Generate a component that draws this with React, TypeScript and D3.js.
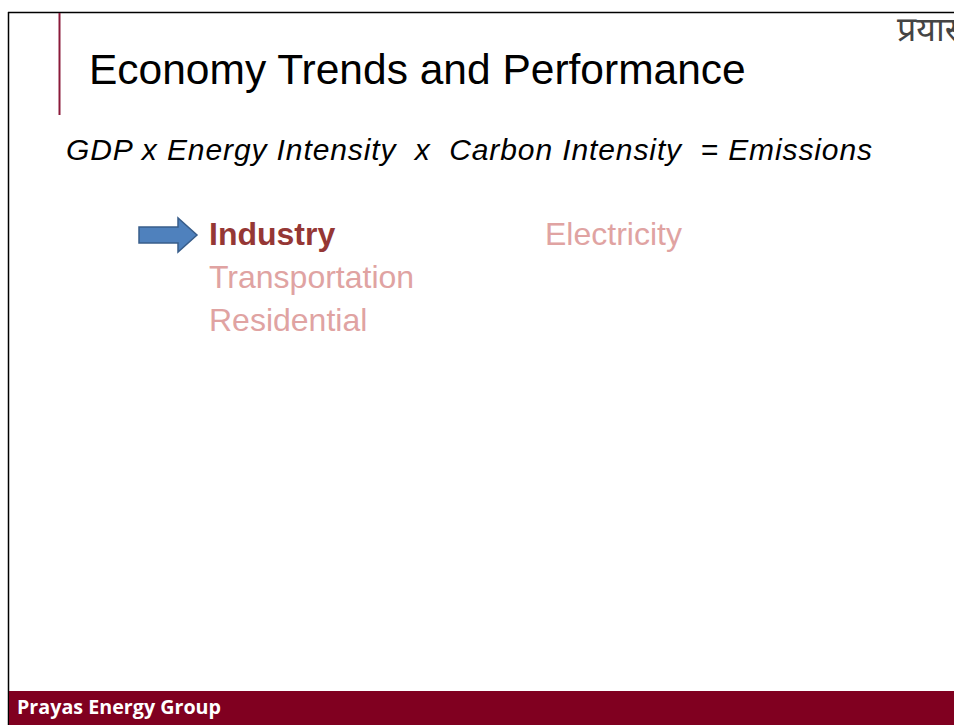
import React, { useEffect, useRef } from 'react';
import * as d3 from 'd3';

const title = 'Economy Trends and Performance';
const equation = 'GDP x Energy Intensity  x  Carbon Intensity  = Emissions';
const leftSectors = ['Industry', 'Transportation', 'Residential'];
const rightSectors = ['Electricity'];
const activeSector = 'Industry';
const footer = 'Prayas Energy Group';
const logo = 'प्रयास';

const W = 954;
const H = 725;

const App: React.FC = () => {
  const ref = useRef<SVGSVGElement>(null);

  useEffect(() => {
    const svg = d3.select(ref.current);
    svg.selectAll('*').remove();

    svg.append('rect').attr('width', W).attr('height', H).attr('fill', '#fff');

    // slide frame
    svg.append('line').attr('x1', 8).attr('x2', W).attr('y1', 12.5).attr('y2', 12.5)
      .attr('stroke', '#000').attr('stroke-width', 1.5);
    svg.append('line').attr('x1', 8.5).attr('x2', 8.5).attr('y1', 12).attr('y2', H)
      .attr('stroke', '#000').attr('stroke-width', 1.5);
    svg.append('line').attr('x1', 59.5).attr('x2', 59.5).attr('y1', 13).attr('y2', 115)
      .attr('stroke', '#8b1a3a').attr('stroke-width', 2);

    // logo, top right (cut off by the page edge)
    svg.append('text')
      .attr('x', 897).attr('y', 41)
      .attr('font-family', '"Noto Sans", sans-serif')
      .attr('font-size', 34)
      .attr('fill', '#444')
      .text(logo);

    svg.append('text')
      .attr('x', 89).attr('y', 84)
      .attr('font-family', '"Liberation Sans", Arial, sans-serif')
      .attr('font-size', 42.5)
      .attr('fill', '#000')
      .text(title);

    svg.append('text')
      .attr('x', 66).attr('y', 160)
      .attr('font-family', '"Liberation Sans", Arial, sans-serif')
      .attr('font-size', 30)
      .attr('font-style', 'italic')
      .attr('fill', '#000')
      .attr('textLength', 806)
      .attr('lengthAdjust', 'spacing')
      .style('white-space', 'pre')
      .text(equation);

    const y = d3.scaleLinear().domain([0, 1]).range([245, 288]);

    const drawList = (items: string[], x: number) => {
      svg.selectAll(null)
        .data(items)
        .enter()
        .append('text')
        .attr('x', x)
        .attr('y', (_d, i) => y(i))
        .attr('font-family', '"Liberation Sans", Arial, sans-serif')
        .attr('font-size', 32)
        .attr('font-weight', d => (d === activeSector ? 'bold' : 'normal'))
        .attr('fill', d => (d === activeSector ? '#953735' : '#e0a3a2'))
        .text(d => d);
    };
    drawList(leftSectors, 209);
    drawList(rightSectors, 545);

    // arrow pointing at active sector
    const idx = leftSectors.indexOf(activeSector);
    const cy = y(idx) - 10;
    const arrow = d3.path();
    arrow.moveTo(139, cy - 8);
    arrow.lineTo(178, cy - 8);
    arrow.lineTo(178, cy - 17);
    arrow.lineTo(197, cy);
    arrow.lineTo(178, cy + 17);
    arrow.lineTo(178, cy + 8);
    arrow.lineTo(139, cy + 8);
    arrow.closePath();
    svg.append('path').attr('d', arrow.toString())
      .attr('fill', '#4f81bd').attr('stroke', '#385d8a').attr('stroke-width', 1.5);

    // footer bar
    svg.append('rect').attr('x', 9).attr('y', 691).attr('width', W - 9).attr('height', H - 691)
      .attr('fill', '#800020');
    svg.append('text')
      .attr('x', 17).attr('y', 714)
      .attr('font-family', '"Open Sans", Lato, sans-serif')
      .attr('font-size', 19)
      .attr('font-weight', 'bold')
      .attr('fill', '#fff')
      .attr('textLength', 204)
      .attr('lengthAdjust', 'spacingAndGlyphs')
      .text(footer);
  }, []);

  return <svg ref={ref} width={W} height={H} style={{ position: 'absolute', left: 0, top: 0, display: 'block' }} />;
};

export default App;
